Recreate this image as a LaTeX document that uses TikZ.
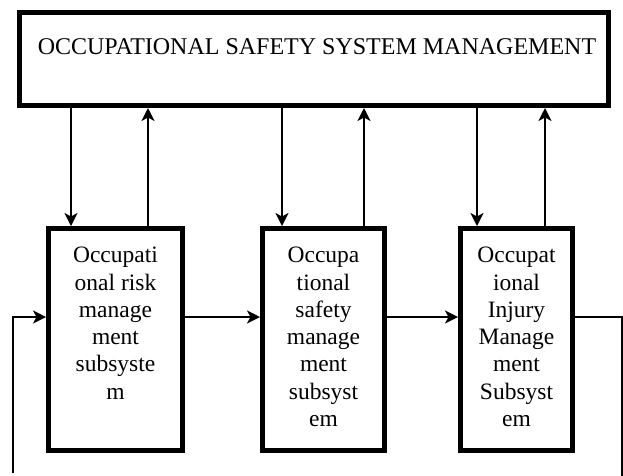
\documentclass[tikz,border=0pt]{standalone}
\usepackage{fontspec}
\setmainfont{Liberation Serif}
\usetikzlibrary{arrows.meta}

\tikzset{
  bigbox/.style={draw,line width=5pt,minimum height=222pt,inner sep=0pt},
  boxtext/.style={anchor=north,align=center,inner sep=0pt},
  link/.style={line width=1.8pt,-{Stealth[length=13pt,width=13pt,inset=3.5pt]}},
  loopline/.style={line width=1.3pt}
}

\begin{document}
\begin{tikzpicture}[x=1pt,y=-1pt,font=\fontsize{23.5}{27.3}\selectfont]
\useasboundingbox (0,0) rectangle (623,475);

\node[bigbox,minimum width=589pt,minimum height=93pt] (top) at (314,59) {};
\node[anchor=base,font=\fontsize{24}{28}\selectfont] (title) at (317,54) {OCCUPATIONAL SAFETY SYSTEM MANAGEMENT};

\node[bigbox,minimum width=134pt] (risk) at (115.5,339.5) {};
\node[bigbox,minimum width=122pt] (safety) at (323.5,339.5) {};
\node[bigbox,minimum width=112pt] (injury) at (516.5,339.5) {};
\node[boxtext] (risktxt) at (115.5,247) {Occupati\\onal risk\\manage\\ment\\subsyste\\m};
\node[boxtext] (safetytxt) at (323.5,247) {Occupa\\tional\\safety\\manage\\ment\\subsyst\\em};
\node[boxtext] (injurytxt) at (516.5,247) {Occupat\\ional\\Injury\\Manage\\ment\\Subsyst\\em};

% down and up between the top box and the subsystems
\draw[link] (top.south -| 71,0) -- (risk.north -| 71,0);
\draw[link] (risk.north -| 148,0) -- (top.south -| 148,0);
\draw[link] (top.south -| 282,0) -- (safety.north -| 282,0);
\draw[link] (safety.north -| 364,0) -- (top.south -| 364,0);
\draw[link] (top.south -| 477,0) -- (injury.north -| 477,0);
\draw[link] (injury.north -| 545,0) -- (top.south -| 545,0);

\coordinate (lvl) at (0,317);
\draw[link] (risk.east |- lvl) -- (safety.west |- lvl);
\draw[link] (safety.east |- lvl) -- (injury.west |- lvl);

% feedback
\coordinate (fbR) at (622,476);
\coordinate (fbL) at (13,473);
\draw[loopline] (injury.east |- lvl) -| (fbR);
\draw[loopline,-{Stealth[length=13pt,width=13pt,inset=3.5pt]}] (fbL) |- (risk.west |- lvl);
\end{tikzpicture}
\end{document}
